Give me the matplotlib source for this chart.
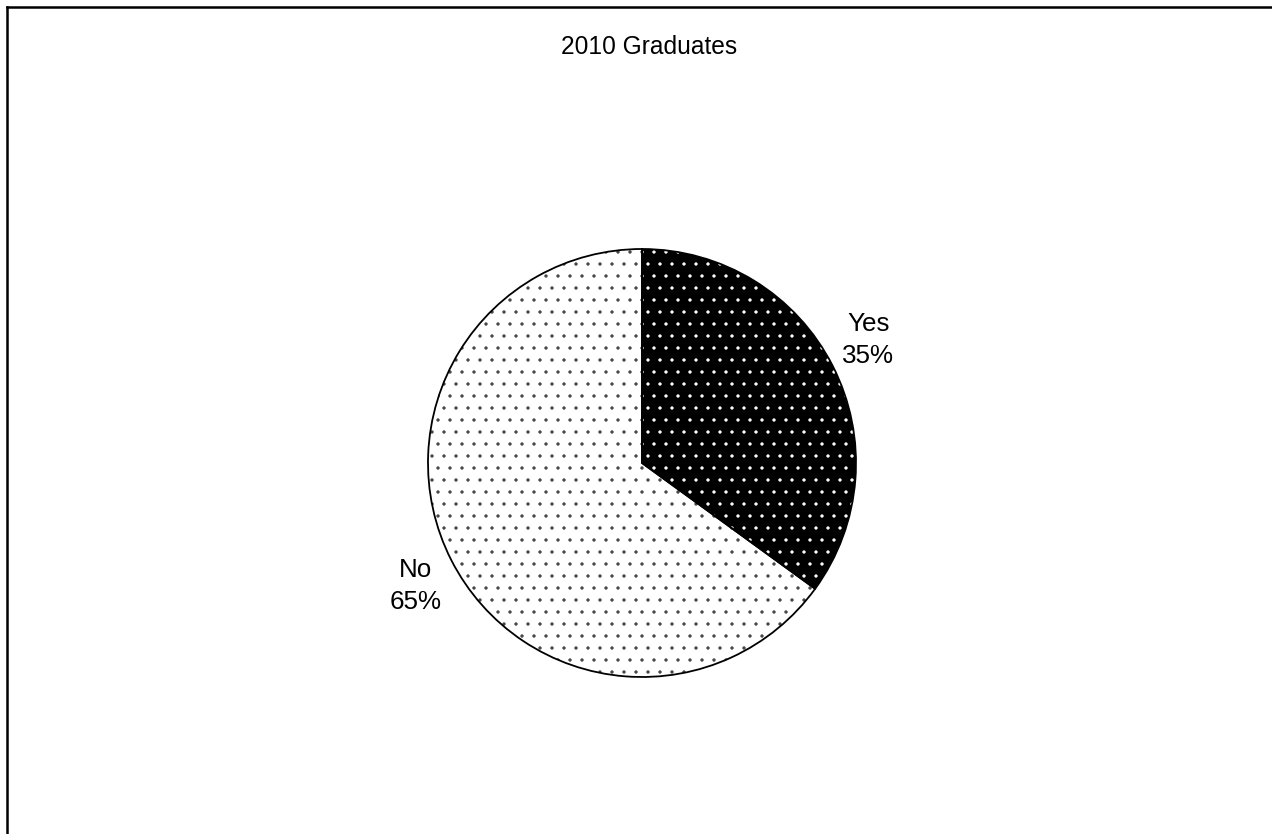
import numpy as np
import matplotlib
matplotlib.use("Agg")
import matplotlib.pyplot as plt
from matplotlib.lines import Line2D

categories = ["Yes", "No"]
values = [35, 65]
title = "2010 Graduates"

plt.rcParams['font.family'] = ['Liberation Sans', 'DejaVu Sans']
plt.rcParams['hatch.linewidth'] = 0.9

DPI = 72
W, H = 1272, 834
fig = plt.figure(figsize=(W / DPI, H / DPI), dpi=DPI)
fig.patch.set_facecolor('white')

ax = fig.add_axes([0, 0, 1, 1])

cx, cy, rpx = 642, 463, 214

face = ['black', 'white']
hatchcol = ['white', '#444444']

# hatched fill layer
wedges, _ = ax.pie(values, startangle=90, counterclock=False,
                   colors=face, hatch=['.', '.'], radius=1,
                   wedgeprops=dict(linewidth=0))
for w, hc in zip(wedges, hatchcol):
    w.set_edgecolor(hc)
    w.set_linewidth(0)

# outline layer
outl, _ = ax.pie(values, startangle=90, counterclock=False,
                 colors=['none', 'none'], radius=1,
                 wedgeprops=dict(linewidth=1.8, edgecolor='black'))
for w in outl:
    w.set_facecolor('none')

ax.set_aspect('auto')
ax.set_xlim(-cx / rpx, (W - cx) / rpx)
ax.set_ylim(-(H - cy) / rpx, cy / rpx)
ax.set_axis_off()

total = sum(values)
for w, cat, v in zip(wedges, categories, values):
    mid = np.deg2rad((w.theta1 + w.theta2) / 2 + 1.6)
    x, y = 1.205 * np.cos(mid), 1.205 * np.sin(mid)
    ax.text(x, y, f"{cat}\n{v / total * 100:.0f}%", ha='center', va='center',
            fontsize=26, linespacing=1.42, color='black')

fig.text(649.5 / W, 1 - 47 / H, title, ha='center', va='center',
         fontsize=24.5, color='black')

# chart frame (left and top edges visible)
fig.add_artist(Line2D([7 / W, 7 / W], [0, 1 - 7 / H], transform=fig.transFigure,
                      color='black', linewidth=2.5, solid_capstyle='projecting'))
fig.add_artist(Line2D([7 / W, 1], [1 - 7 / H, 1 - 7 / H], transform=fig.transFigure,
                      color='black', linewidth=2.5, solid_capstyle='projecting'))

fig.savefig("out.png", dpi=DPI, facecolor='white')
